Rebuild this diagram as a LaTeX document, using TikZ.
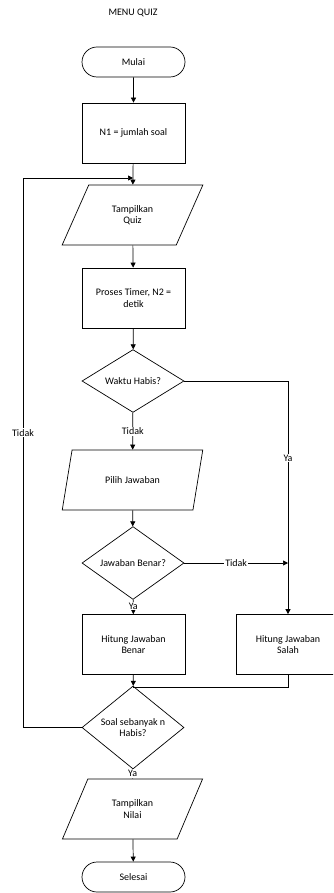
\documentclass[tikz,border=0pt]{standalone}
\usepackage{fontspec}
\setmainfont{Carlito}
\usetikzlibrary{shapes.geometric,shapes.misc,arrows.meta}
\begin{document}
\begin{tikzpicture}[x=1pt,y=1pt,
  base/.style={draw, line width=0.7pt, font=\fontsize{10}{11.5}\selectfont, align=center, inner sep=0pt},
  term/.style={base, rounded rectangle, minimum width=103pt, minimum height=30pt},
  proc/.style={base, rectangle, minimum width=103pt, minimum height=60pt},
  io/.style={base, trapezium, trapezium left angle=57.7, trapezium right angle=122.3, trapezium stretches=true, minimum width=141pt, minimum height=60pt},
  dec/.style={base, diamond, minimum width=102pt, minimum height=60pt},
  lbl/.style={fill=white, inner sep=1pt, font=\fontsize{10}{11.5}\selectfont},
  arr/.style={-{Triangle[length=5pt,width=5pt]}, line width=0.7pt},
  ln/.style={line width=0.7pt}
]
\useasboundingbox (0,0) rectangle (333,-893);
\clip (0,0) rectangle (333,-893);
\node[font=\fontsize{10}{11.5}\selectfont] (title) at (133,-13) {MENU QUIZ};
\node[term] (mulai) at (133.5,-62) {Mulai};
\node[proc] (n1) at (133.5,-133) {N1 = jumlah soal};
\node[io] (quiz) at (132.5,-215) {Tampilkan\\Quiz};
\node[proc] (timer) at (133.5,-298) {Proses Timer, N2 =\\detik};
\node[dec] (waktu) at (133,-381) {Waktu Habis?};
\node[io] (pilih) at (132.5,-480) {Pilih Jawaban};
\node[dec] (benar) at (133,-563) {Jawaban Benar?};
\node[proc] (hbenar) at (133.5,-644.5) {Hitung Jawaban\\Benar};
\node[proc] (hsalah) at (288,-644.5) {Hitung Jawaban\\Salah};
\node[dec] (soal) at (133,-727.5) {Soal sebanyak n\\Habis?};
\node[io] (nilai) at (132.5,-809) {Tampilkan\\Nilai};
\node[term] (selesai) at (133.5,-877) {Selesai};

\coordinate (loopin) at (133,-178);
\coordinate (rt) at (288,-381);
\coordinate (rj) at (288,-563);
\coordinate (mg) at (133,-687);

\draw[arr] (mulai) -- (n1);
\draw[arr] (n1) -- (quiz);
\draw[arr] (quiz) -- (timer);
\draw[arr] (timer) -- (waktu);
\draw[arr] (waktu) -- node[lbl]{Tidak} (pilih);
\draw[arr] (pilih) -- (benar);
\draw[arr] (benar) -- node[lbl, pos=0.45]{Ya} (hbenar);
\draw[arr] (hbenar) -- (soal);
\draw[arr] (soal) -- node[lbl, pos=0.45]{Ya} (nilai);
\draw[arr] (nilai) -- (selesai);
\draw[arr] (waktu.east) -- (rt) -- node[lbl, pos=0.33]{Ya} (hsalah.north);
\draw[arr] (benar.east) -- node[lbl]{Tidak} (rj);
\draw[ln] (hsalah.south) |- (mg);
\draw[arr] (soal.west) -- (23,-727.5) -- node[lbl, pos=0.536]{Tidak} (23,-178) -- (loopin);
\end{tikzpicture}
\end{document}
